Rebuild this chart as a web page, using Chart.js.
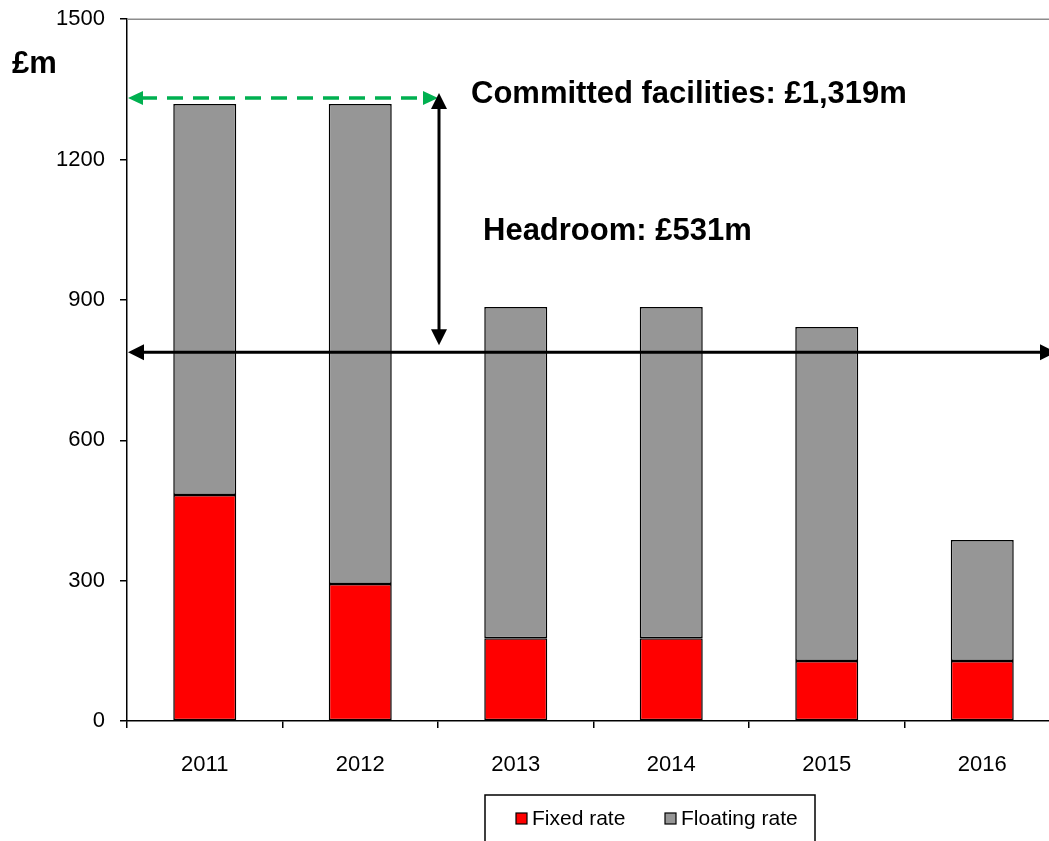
<!DOCTYPE html>
<html>
<head>
<meta charset="utf-8">
<script src="https://cdn.jsdelivr.net/npm/chart.js@4.4.1/dist/chart.umd.min.js"></script>
<style>
  html, body { margin: 0; padding: 0; background: #fff; overflow: hidden; }
  #wrap { position: relative; width: 1062px; height: 860px; }
  #myChart { position: absolute; left: 0; top: -9px; }
</style>
</head>
<body>
<div id="wrap"><canvas id="myChart"></canvas></div>
<script>
'use strict'
//////////////////
// Data
//////////////////
const years = ['2011', '2012', '2013', '2014', '2015', '2016'];
const fixedRate = [483, 293, 177, 177, 128, 128];
const floatingRate = [836, 1026, 708, 708, 714, 259];
const yTicks = [0, 300, 600, 900, 1200, 1500];
const committed = 1319;
const headroom = 531;

const FONT = '"Liberation Sans", Arial, sans-serif';
const RED = '#ff0000';
const GREY = '#969696';
const GREEN = '#00b050';
// canvas sits 9px above the page top, so fixed text positions add this back
const SHIFT = 9;

/////////////////////////
// Helpers
/////////////////////////
function drawHead(ctx, x, y, angle, len, half, color) {
  ctx.save();
  ctx.translate(x, y);
  ctx.rotate(angle);
  ctx.fillStyle = color;
  ctx.beginPath();
  ctx.moveTo(0, 0);
  ctx.lineTo(-len, -half);
  ctx.lineTo(-len, half);
  ctx.closePath();
  ctx.fill();
  ctx.restore();
}

function drawLine(ctx, x1, y1, x2, y2, color, width, dash) {
  ctx.save();
  ctx.strokeStyle = color;
  ctx.lineWidth = width;
  ctx.setLineDash(dash || []);
  ctx.beginPath();
  ctx.moveTo(x1, y1);
  ctx.lineTo(x2, y2);
  ctx.stroke();
  ctx.restore();
}

// arrows, labels, top border and the boxed legend
const annotations = {
  id: 'annotations',
  afterDatasetsDraw(chart) {
    const ctx = chart.ctx;
    const area = chart.chartArea;
    const x = chart.scales.x;
    const y = chart.scales.y;

    // top frame line
    drawLine(ctx, area.left, area.top, area.right, area.top, '#8c8c8c', 1.5);

    const xMid = (x.getPixelForValue(1) + x.getPixelForValue(2)) / 2;
    const yCommitted = y.getPixelForValue(committed) - 6;
    const yHeadroom = y.getPixelForValue(committed - headroom);

    // committed facilities: green dashed double arrow
    drawLine(ctx, area.left + 14, yCommitted, xMid - 14, yCommitted, GREEN, 3.5, [16, 10]);
    drawHead(ctx, area.left + 1, yCommitted, Math.PI, 15, 7, GREEN);
    drawHead(ctx, xMid, yCommitted, 0, 15, 7, GREEN);

    // headroom: vertical double arrow
    const vTop = yCommitted - 5;
    const vBot = yHeadroom - 7;
    drawLine(ctx, xMid + 1, vTop + 12, xMid + 1, vBot - 12, '#000', 3);
    drawHead(ctx, xMid + 1, vTop, -Math.PI / 2, 16, 8, '#000');
    drawHead(ctx, xMid + 1, vBot, Math.PI / 2, 16, 8, '#000');

    // headroom: horizontal double arrow across the plot
    const hRight = area.right - 4;
    drawLine(ctx, area.left + 12, yHeadroom, hRight - 12, yHeadroom, '#000', 3);
    drawHead(ctx, area.left + 1, yHeadroom, Math.PI, 16, 8, '#000');
    drawHead(ctx, hRight, yHeadroom, 0, 16, 8, '#000');

    ctx.save();
    ctx.fillStyle = '#000';
    ctx.font = 'bold 31px ' + FONT;
    ctx.textBaseline = 'middle';
    ctx.textAlign = 'left';
    ctx.fillText('Committed facilities: £1,319m', xMid + 33, yCommitted - 3);
    ctx.fillText('Headroom: £531m', xMid + 45, 231 + SHIFT);
    ctx.fillText('£m', 12, 64 + SHIFT);

    // legend
    ctx.strokeStyle = '#000';
    ctx.lineWidth = 1.5;
    ctx.strokeRect(485, 795 + SHIFT, 330, 80);
    ctx.font = '21px ' + FONT;
    const items = [
      { label: 'Fixed rate', color: RED, x: 516 },
      { label: 'Floating rate', color: GREY, x: 665 }
    ];
    for (const item of items) {
      ctx.fillStyle = item.color;
      ctx.fillRect(item.x, 813 + SHIFT, 11, 11);
      ctx.lineWidth = 1.2;
      ctx.strokeRect(item.x, 813 + SHIFT, 11, 11);
      ctx.fillStyle = '#000';
      ctx.fillText(item.label, item.x + 16, 819 + SHIFT);
    }
    ctx.restore();
  }
};

/////////////////////////
// Chart
/////////////////////////
function renderChart() {
  const data = {
    labels: years,
    datasets: [
      {
        label: 'Fixed rate',
        data: fixedRate,
        backgroundColor: RED,
        borderColor: '#000',
        borderWidth: 1.5,
        borderSkipped: false
      },
      {
        label: 'Floating rate',
        data: floatingRate,
        backgroundColor: GREY,
        borderColor: '#000',
        borderWidth: 1.5,
        borderSkipped: false
      }
    ]
  };

  const config = {
    type: 'bar',
    data: data,
    options: {
      responsive: false,
      animation: false,
      layout: { padding: { left: 0, right: 2, top: 10, bottom: 0 } },
      datasets: { bar: { categoryPercentage: 1, barPercentage: 0.405 } },
      plugins: { legend: { display: false }, tooltip: { enabled: false } },
      scales: {
        x: {
          stacked: true,
          grid: { offset: true, drawOnChartArea: false, drawTicks: true, tickLength: 7, color: '#000', lineWidth: 1.5 },
          border: { display: true, color: '#000', width: 1.5 },
          ticks: { color: '#000', font: { family: FONT, size: 22 }, padding: 24, maxRotation: 0 },
          afterFit(scale) { scale.height = 139; }
        },
        y: {
          stacked: true,
          min: 0,
          max: 1500,
          afterBuildTicks(scale) { scale.ticks = yTicks.map(v => ({ value: v })); },
          grid: { drawOnChartArea: false, drawTicks: true, tickLength: 7, color: '#000', lineWidth: 1.5 },
          border: { display: true, color: '#000', width: 1.5 },
          ticks: { color: '#000', font: { family: FONT, size: 22 }, padding: 15, callback: v => String(v) },
          afterFit(scale) { scale.width = 127; }
        }
      }
    },
    plugins: [annotations]
  };

  const canvasChart = document.getElementById('myChart');
  canvasChart.width = 1062;
  canvasChart.height = 869;
  new Chart(canvasChart, config);
}

renderChart();
</script>
</body>
</html>
